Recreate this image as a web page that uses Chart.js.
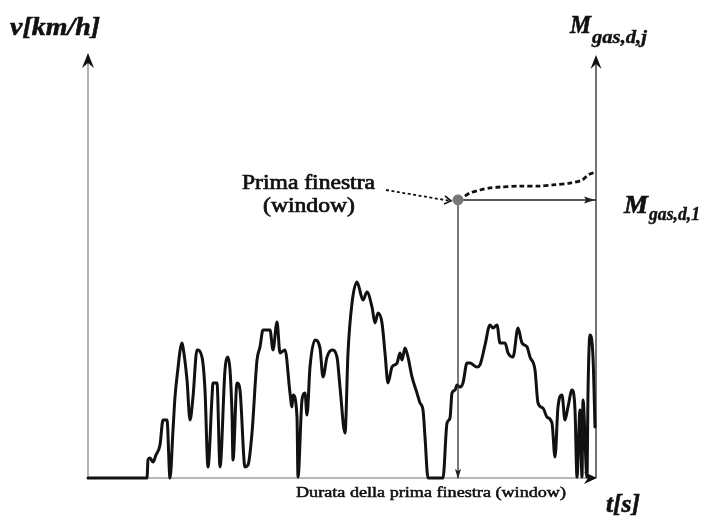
<!DOCTYPE html>
<html><head><meta charset="utf-8">
<script src="https://cdn.jsdelivr.net/npm/chart.js@4"></script>
<style>html,body{margin:0;padding:0;background:#fff}#wrap{width:702px;height:517px}</style>
</head><body><div id="wrap"><canvas id="c" width="702" height="517"></canvas></div>
<script>
// Speed trace (time in s, speed in km/h)
const timeS = [0,118,120,124,130,136,144,150,158,164,170,174,178,188,190,198,204,210,218,228,234,240,248,250,258,264,274,280,288,290,298,304,314,320,328,338,344,350,364,370,378,384,394,404,408,410,418,420,428,434,438,444,454,464,470,478,488,498,504,514,520,528,538,550,558,568,574,580,588,594,600,608,618,624,628,634,640,648,658,664,670,674,680,710,718,724,728,734,738,744,750,758,764,778,784,794,804,810,818,824,834,840,850,860,868,878,884,894,900,910,918,928,934,940,948,954,960,968,974,978,984,988,990,998,1000,1004,1010,1014];
const speedKmh = [0,0,6,6.7,5.3,7.7,11,19.3,19.3,0,16,27,33.7,45,43.7,32.7,19.3,27,42.7,40.3,29.3,3.7,27,31.7,31.7,3.7,36,40.3,21.7,6,31.7,29.3,3.7,4.3,15,39.3,43.7,49.3,49.3,42.7,52,41.7,42.7,28.3,23.7,27.7,20.3,0.3,26,28.3,21,37,46,43.3,33.7,40.3,42.7,40.3,30.3,15,41.7,58.3,65.3,59.3,62,57,51.7,55,51.7,41.7,31.7,37,38.3,41.7,39.3,43.3,40.3,33.7,28.3,25,22.7,13.7,0,0,18.3,20,28.3,29.3,31,30.3,31.7,38.3,38.3,37,37.7,44.3,51,50,51,45,45,41.7,40.3,50,45,43.7,40.3,36,25,23.3,20.3,18.3,7,23.7,27.7,19.3,23.7,29.3,22.7,0.3,22.7,0.3,26,0.3,28.3,47.7,40.3,17];
// Cumulative gas mass after the first window (same vertical scale)
const gasTime = [740,748,764,784,804,824,864,904,930,964,988,1000,1010,1016];
const gasMass = [92.7,93.3,95,96,96.7,97,97.3,97.3,97.7,98.3,99.3,101,101.7,102];
// First window
const windowEndS = 740;
const windowMass = 92.7;
const xMax = 1016;
const yMax = 141;

const zip = (a, b) => a.map((v, i) => ({x: v, y: b[i]}));

function stretchText(ctx, s, x, y, font, w, stroke) {
  ctx.font = font;
  const m = ctx.measureText(s).width;
  ctx.save();
  ctx.translate(x, y);
  ctx.scale(w / m, 1);
  ctx.textAlign = 'left';
  ctx.textBaseline = 'alphabetic';
  ctx.fillText(s, 0, 0);
  if (stroke) { ctx.lineWidth = stroke; ctx.strokeStyle = ctx.fillStyle; ctx.strokeText(s, 0, 0); }
  ctx.restore();
}
function stealth(ctx, tx, ty, dir, len, half, notch) {
  ctx.beginPath();
  if (dir === 'up') {
    ctx.moveTo(tx, ty); ctx.lineTo(tx - half, ty + len); ctx.lineTo(tx, ty + len - notch); ctx.lineTo(tx + half, ty + len);
  } else if (dir === 'down') {
    ctx.moveTo(tx, ty); ctx.lineTo(tx - half, ty - len); ctx.lineTo(tx, ty - len + notch); ctx.lineTo(tx + half, ty - len);
  } else {
    ctx.moveTo(tx, ty); ctx.lineTo(tx - len, ty - half); ctx.lineTo(tx - len + notch, ty); ctx.lineTo(tx - len, ty + half);
  }
  ctx.closePath();
  ctx.fill();
}

const decor = {
  id: 'decor',
  beforeDatasetsDraw(chart) {
    const ctx = chart.ctx, a = chart.chartArea;
    ctx.save();
    ctx.lineWidth = 1.5;
    ctx.strokeStyle = '#9a9a9a';
    ctx.beginPath(); ctx.moveTo(a.left, a.bottom); ctx.lineTo(a.left, a.top + 6); ctx.stroke();
    ctx.strokeStyle = '#a0a0a0';
    ctx.beginPath(); ctx.moveTo(a.left, a.bottom); ctx.lineTo(a.right - 6, a.bottom); ctx.stroke();
    ctx.strokeStyle = '#444';
    ctx.beginPath(); ctx.moveTo(a.right, a.bottom); ctx.lineTo(a.right, a.top + 6); ctx.stroke();
    ctx.fillStyle = '#111';
    stealth(ctx, a.left, a.top - 2, 'up', 15, 6, 5);
    stealth(ctx, a.right, a.top, 'up', 14, 5.5, 5);
    stealth(ctx, a.right + 1, a.bottom, 'right', 13, 6, 4);
    ctx.restore();
  },
  afterDraw(chart) {
    const ctx = chart.ctx, xs = chart.scales.x, ys = chart.scales.y, a = chart.chartArea;
    const px = xs.getPixelForValue(windowEndS), py = ys.getPixelForValue(windowMass);
    ctx.save();
    ctx.fillStyle = '#222';
    stealth(ctx, px, a.bottom + 1, 'down', 10, 3, 2);
    stealth(ctx, a.right - 1, py, 'right', 11, 3.5, 2);
    ctx.strokeStyle = '#111';
    ctx.lineWidth = 1.8;
    ctx.setLineDash([3, 2.5]);
    ctx.beginPath(); ctx.moveTo(386, 190); ctx.lineTo(px - 8, py + 1); ctx.stroke();
    ctx.setLineDash([]);
    ctx.lineWidth = 1.6;
    ctx.beginPath(); ctx.moveTo(px - 13, py - 4); ctx.lineTo(px - 7, py + 1); ctx.lineTo(px - 14, py + 4); ctx.stroke();
    ctx.fillStyle = '#111';
    const serif = '"Liberation Serif", "DejaVu Serif", serif';
    stretchText(ctx, 'v[km/h]', 10, 35, 'italic bold 26px ' + serif, 90, 0.6);
    stretchText(ctx, 'M', 570, 33, 'italic bold 26px ' + serif, 21, 0.6);
    stretchText(ctx, 'gas,d,j', 592, 43, 'italic bold 18px ' + serif, 55, 0.4);
    stretchText(ctx, 'M', 624, 213, 'italic bold 26px ' + serif, 24, 0.6);
    stretchText(ctx, 'gas,d,1', 649, 220, 'italic bold 18px ' + serif, 51, 0.4);
    stretchText(ctx, 't[s]', 606, 512, 'italic bold 26px ' + serif, 34, 0.6);
    stretchText(ctx, 'Prima finestra', 242, 189, '20px ' + serif, 133, 0.7);
    stretchText(ctx, '(window)', 263, 212, '20px ' + serif, 92, 0.7);
    stretchText(ctx, 'Durata della prima finestra (window)', 296, 497, '14px ' + serif, 270, 0.5);
    ctx.restore();
  }
};

new Chart(document.getElementById('c'), {
  type: 'line',
  data: {
    datasets: [
      { label: 'v', data: zip(timeS, speedKmh), borderColor: '#111', borderWidth: 3, pointRadius: 0, cubicInterpolationMode: 'monotone', clip: false, borderJoinStyle: 'round', borderCapStyle: 'round', order: 3 },
      { label: 'M gas', data: zip(gasTime, gasMass), borderColor: '#111', borderWidth: 2.8, borderDash: [5, 3], pointRadius: 0, tension: 0.3, clip: false, order: 3 },
      { label: 'window duration', data: [{x: windowEndS, y: 0}, {x: windowEndS, y: windowMass}], borderColor: '#333', borderWidth: 1.3, pointRadius: 0, clip: false, order: 2 },
      { label: 'M gas,d,1', data: [{x: windowEndS, y: windowMass}, {x: xMax, y: windowMass}], borderColor: '#222', borderWidth: 1.5, pointRadius: 0, clip: false, order: 2 },
      { label: 'first window', data: [{x: windowEndS, y: windowMass}], showLine: false, pointRadius: 5, pointBackgroundColor: '#777', pointBorderColor: '#777', clip: false, order: 1 }
    ]
  },
  options: {
    responsive: false,
    animation: false,
    devicePixelRatio: 1,
    layout: { padding: { left: 88, right: 106, top: 55, bottom: 39 } },
    plugins: { legend: { display: false }, tooltip: { enabled: false } },
    scales: {
      x: { type: 'linear', min: 0, max: xMax, display: false },
      y: { type: 'linear', min: 0, max: yMax, display: false }
    }
  },
  plugins: [decor]
});
</script>
</body></html>
